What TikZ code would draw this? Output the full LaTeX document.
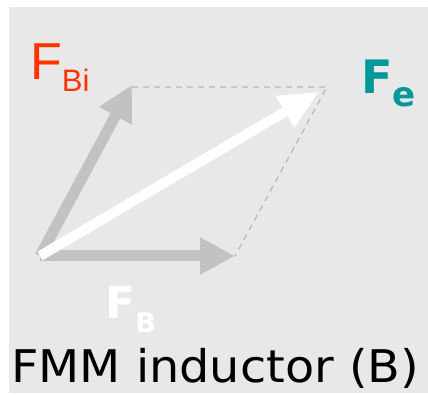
\documentclass[tikz,border=0pt]{standalone}
\usepackage{fontspec}
\setmainfont{DejaVu Sans}
\newfontfamily\arialfont{Liberation Sans}
\usetikzlibrary{arrows.meta}
\definecolor{bgray}{HTML}{E8E8E8}
\definecolor{vgray}{HTML}{C2C2C2}
\definecolor{dgray}{HTML}{B8B8B8}
\definecolor{fred}{HTML}{FF3300}
\definecolor{fteal}{HTML}{009999}
\tikzset{
  vec/.style={line width=11pt,color=vgray,-{Triangle[length=35pt,width=35pt]}},
  res/.style={line width=10pt,color=white,shorten >=9pt,-{Triangle[length=40pt,width=34pt]}},
  aux/.style={dgray,line width=1.2pt,dash pattern=on 6pt off 5pt},
}
\begin{document}
\begin{tikzpicture}[x=1pt,y=-1pt,line join=round]
				\useasboundingbox (0,0) rectangle (428,395);
				\fill[bgray] (9,7) rectangle (428,393);
				\coordinate (O) at (40,256); \coordinate (B) at (235,256);
				\coordinate (Bi) at (132,85); \coordinate (E) at (327,87);
				\draw[aux] (132,87)--(E)--(B);
				\draw[vec] (O)--(B);
				\draw[vec] (O)--(Bi);
				\draw[res] (O)--(E);
				\node[anchor=base west,inner sep=0pt,text=fred] (lBi) at (30,80) {\arialfont\fontsize{52}{52}\selectfont F\raisebox{-12pt}{\fontsize{31}{31}\selectfont Bi}};
				\node[anchor=base west,inner sep=0pt,text=fteal] (lE) at (361,94) {\bfseries\fontsize{46}{46}\selectfont F\raisebox{-13pt}{\fontsize{34}{34}\selectfont e}};
				\node[anchor=base west,inner sep=0pt,text=white] (lB) at (105,318) {\bfseries\fontsize{44}{44}\selectfont F\raisebox{-14pt}{\fontsize{27}{27}\selectfont B}};
				\node[anchor=base west,inner sep=0pt] (title) at (11,382) {\scalebox{1.06}[1]{\fontsize{45}{45}\selectfont FMM inductor (B)}};
			\end{tikzpicture}
\end{document}
